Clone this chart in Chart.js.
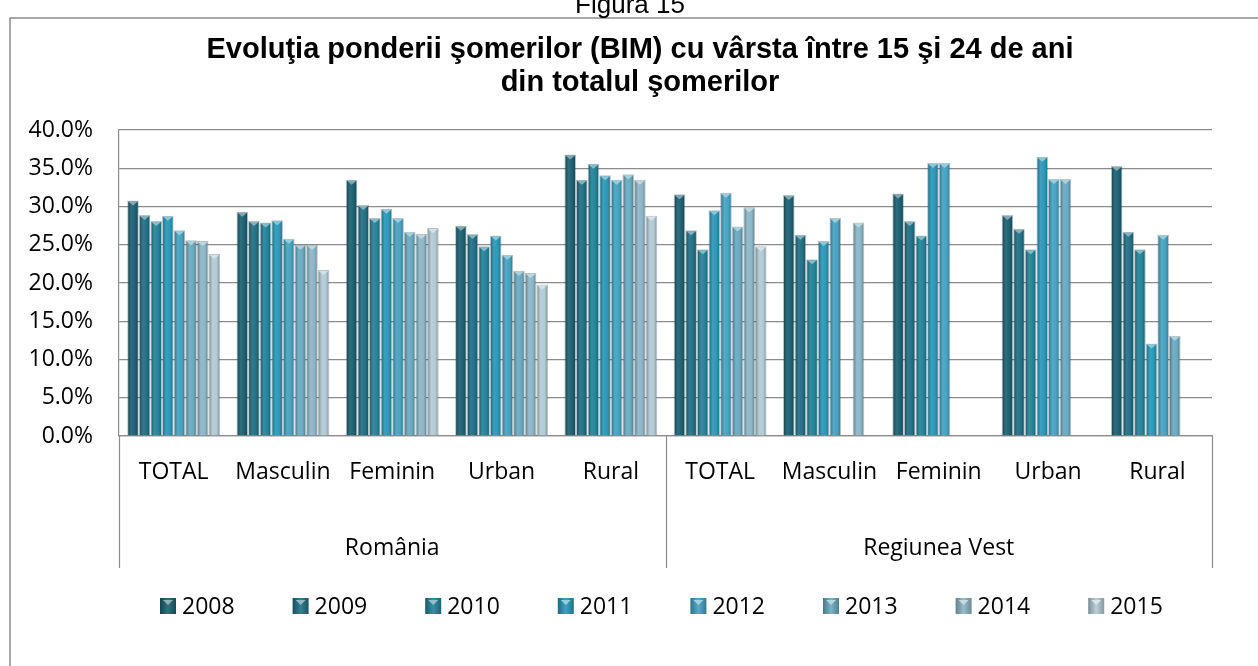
<!DOCTYPE html>
<html>
<head>
<meta charset="utf-8">
<title>Figura 15</title>
<script src="https://cdn.jsdelivr.net/npm/chart.js@4.4.1/dist/chart.umd.min.js"></script>
<style>
    body { margin: 0; background: #ffffff; }
    #wrap { width: 1258px; height: 666px; }
</style>
</head>
<body>
<div id="wrap"><canvas id="somajChart" width="1258" height="666"></canvas></div>
<script>
const somajChart = document.getElementById('somajChart');

// categorii pe axa x si grupurile lor
const categories = ['TOTAL', 'Masculin', 'Feminin', 'Urban', 'Rural', 'TOTAL', 'Masculin', 'Feminin', 'Urban', 'Rural'];
const groups = ['România', 'Regiunea Vest'];
const groupSize = 5;

const years = ['2008', '2009', '2010', '2011', '2012', '2013', '2014', '2015'];

// ponderea (%) pe fiecare an
const v2008 = [30.8, 29.3, 33.5, 27.5, 36.8, 31.6, 31.5, 31.7, 28.9, 35.3];
const v2009 = [28.9, 28.1, 30.2, 26.4, 33.5, 26.9, 26.3, 28.1, 27.1, 26.7];
const v2010 = [28.1, 27.9, 28.5, 24.8, 35.6, 24.4, 23.1, 26.2, 24.4, 24.4];
const v2011 = [28.8, 28.2, 29.7, 26.2, 34.1, 29.5, 25.5, 35.7, 36.5, 12.1];
const v2012 = [26.9, 25.8, 28.5, 23.7, 33.5, 31.8, 28.5, 35.7, 33.6, 26.3];
const v2013 = [25.6, 25.0, 26.7, 21.6, 34.2, 27.4, null, null, 33.6, 13.1];
const v2014 = [25.5, 25.0, 26.4, 21.3, 33.5, 29.9, 27.9, null, null, null];
const v2015 = [23.8, 21.7, 27.2, 19.8, 28.8, 24.8, null, null, null, null];

const yTicks = [0, 5, 10, 15, 20, 25, 30, 35, 40];

const seriesValues = [v2008, v2009, v2010, v2011, v2012, v2013, v2014, v2015];
const seriesColors = ['#1d6072', '#217085', '#248399', '#2a98b8', '#45a3c2', '#6aaac0', '#8db6c6', '#b2cbd5'];

const textFont = "'Open Sans', sans-serif";
const gridGray = '#8c8c8c';

// amesteca o culoare hex cu alb (f>0) sau negru (f<0)
function shade(hex, f) {
    var r = parseInt(hex.substr(1, 2), 16), g = parseInt(hex.substr(3, 2), 16), b = parseInt(hex.substr(5, 2), 16);
    var t = f < 0 ? 0 : 255, p = Math.abs(f);
    r = Math.round(r + (t - r) * p); g = Math.round(g + (t - g) * p); b = Math.round(b + (t - b) * p);
    return 'rgb(' + r + ',' + g + ',' + b + ')';
}

var datasets = [];
for (var i = 0; i < years.length; i++) {
    datasets.push({
        label: years[i],
        data: seriesValues[i],
        backgroundColor: seriesColors[i],
        borderColor: 'rgba(20, 55, 70, 0.3)',
        borderWidth: 1
    });
}

// gradient orizontal pe fiecare bara + triunghiul deschis de sus
const barLookPlugin = {
    id: 'barLook',
    beforeDatasetsDraw(chart) {
        const ctx = chart.ctx;
        chart.data.datasets.forEach((ds, di) => {
            const base = seriesColors[di];
            chart.getDatasetMeta(di).data.forEach(bar => {
                const left = bar.x - bar.width / 2;
                const grad = ctx.createLinearGradient(left, 0, left + bar.width, 0);
                grad.addColorStop(0, shade(base, -0.35));
                grad.addColorStop(0.35, shade(base, 0.08));
                grad.addColorStop(0.7, base);
                grad.addColorStop(1, shade(base, -0.3));
                bar.options = Object.assign({}, bar.options, { backgroundColor: grad });
            });
        });
    },
    afterDatasetsDraw(chart) {
        const ctx = chart.ctx;
        ctx.save();
        chart.data.datasets.forEach((ds, di) => {
            const tip = shade(seriesColors[di], 0.45);
            chart.getDatasetMeta(di).data.forEach((bar, i) => {
                if (ds.data[i] === null) return;
                const left = bar.x - bar.width / 2 + 1;
                const right = bar.x + bar.width / 2 - 1;
                ctx.fillStyle = tip;
                ctx.beginPath();
                ctx.moveTo(left, bar.y + 1);
                ctx.lineTo(right, bar.y + 1);
                ctx.lineTo(bar.x, bar.y + 5);
                ctx.closePath();
                ctx.fill();
            });
        });
        ctx.restore();
    }
};

// chenar, titlu, etichetele de grup de sub axa x si legenda
const extrasPlugin = {
    id: 'extras',
    afterDraw(chart) {
        const ctx = chart.ctx;
        const x = chart.scales.x;
        ctx.save();

        ctx.strokeStyle = gridGray;
        ctx.lineWidth = 1.5;
        ctx.strokeRect(10, 18, 1300, 700);

        ctx.fillStyle = '#000000';
        ctx.textAlign = 'center';
        ctx.textBaseline = 'alphabetic';
        ctx.font = "26px 'Liberation Sans', Arial, sans-serif";
        ctx.fillText('Figura 15', 630, 13);

        ctx.font = "bold 29px 'Liberation Sans', Arial, sans-serif";
        ctx.fillText('Evoluţia ponderii şomerilor (BIM) cu vârsta între 15 şi 24 de ani', 640, 58);
        ctx.fillText('din totalul şomerilor', 640, 91);

        // linii de separare intre grupuri
        const step = (x.right - x.left) / categories.length;
        ctx.strokeStyle = gridGray;
        ctx.lineWidth = 1.2;
        for (var g = 0; g <= groups.length; g++) {
            var px = Math.round(x.left + g * groupSize * step) + 0.5;
            ctx.beginPath();
            ctx.moveTo(px, x.top);
            ctx.lineTo(px, 568);
            ctx.stroke();
        }

        ctx.font = '23px ' + textFont;
        for (var g = 0; g < groups.length; g++) {
            var cx = x.left + (g * groupSize + groupSize / 2) * step;
            ctx.fillText(groups[g], cx, 555);
        }

        // legenda
        ctx.textAlign = 'left';
        var lx = 160;
        chart.data.datasets.forEach((ds, di) => {
            const c = seriesColors[di];
            const grad = ctx.createLinearGradient(lx, 0, lx + 16, 0);
            grad.addColorStop(0, shade(c, -0.3));
            grad.addColorStop(0.5, shade(c, 0.1));
            grad.addColorStop(1, shade(c, -0.25));
            ctx.fillStyle = grad;
            ctx.fillRect(lx, 598, 16, 16);
            ctx.fillStyle = shade(c, 0.5);
            ctx.beginPath();
            ctx.moveTo(lx + 3, 600);
            ctx.lineTo(lx + 13, 600);
            ctx.lineTo(lx + 8, 605);
            ctx.closePath();
            ctx.fill();
            ctx.fillStyle = '#000000';
            ctx.fillText(ds.label, lx + 22, 614);
            lx += 132.6;
        });
        ctx.restore();
    }
};

new Chart(somajChart, {
    type: 'bar',
    data: {
        labels: categories,
        datasets: datasets
    },
    options: {
        responsive: false,
        animation: false,
        layout: {
            padding: { top: 130, left: 10, right: 46, bottom: 98 }
        },
        datasets: {
            bar: {
                categoryPercentage: 0.85,
                barPercentage: 1.0
            }
        },
        scales: {
            x: {
                grid: { display: false },
                border: { color: gridGray, width: 1.2 },
                ticks: {
                    color: '#000000',
                    font: { family: textFont, size: 23 },
                    padding: 15,
                    maxRotation: 0,
                    autoSkip: false
                },
                afterFit(scale) { scale.height = 132; }
            },
            y: {
                min: 0,
                max: 40,
                afterBuildTicks(scale) {
                    scale.ticks = yTicks.map(v => ({ value: v }));
                },
                grid: { color: gridGray, lineWidth: 1.2, drawTicks: false },
                border: { color: gridGray, width: 1.2 },
                ticks: {
                    color: '#000000',
                    font: { family: textFont, size: 23 },
                    padding: 26,
                    callback: value => value.toFixed(1) + '%'
                },
                afterFit(scale) { scale.width = 109; }
            }
        },
        plugins: {
            legend: { display: false },
            title: { display: false },
            tooltip: { enabled: false }
        }
    },
    plugins: [barLookPlugin, extrasPlugin]
});
</script>
</body>
</html>
